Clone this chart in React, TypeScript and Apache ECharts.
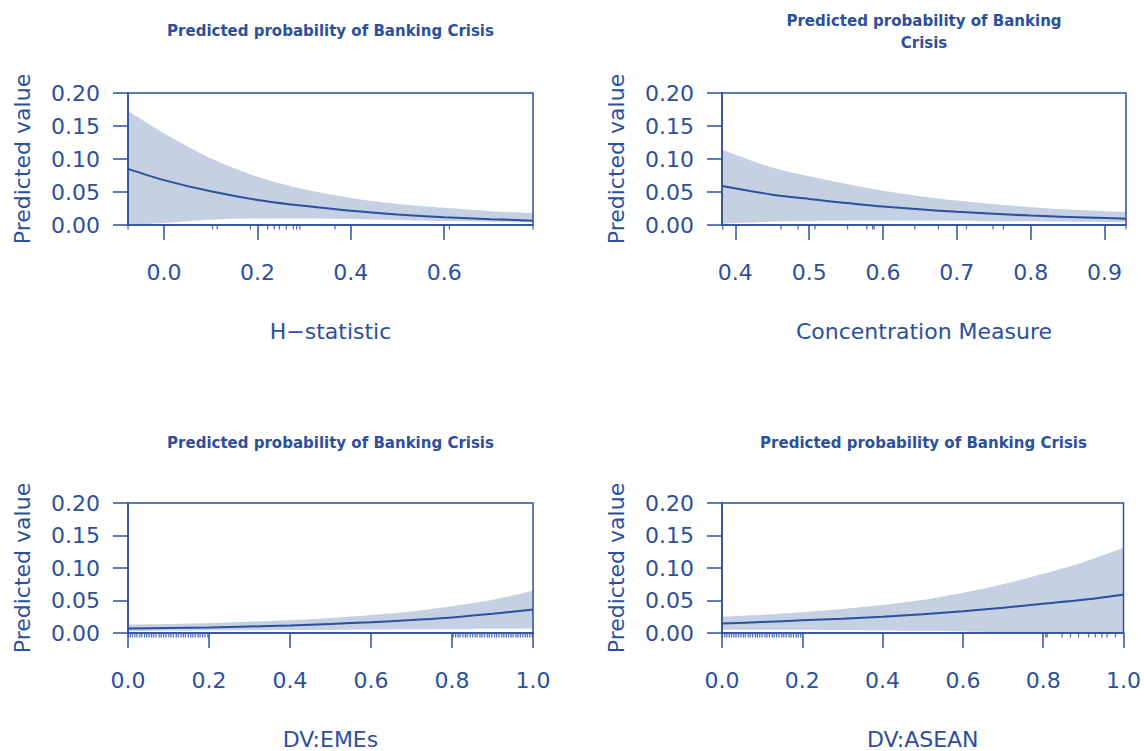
import React, { useEffect, useRef } from "react";
import * as echarts from "echarts";

const COLOR = "#2c4f9e";
const BAND = "#c5d0e3";
const FONT = "DejaVu Sans";

const TITLE = "Predicted probability of Banking Crisis";
const TITLE_WRAPPED = "Predicted probability of Banking\nCrisis";
const Y_NAME = "Predicted value";
const X_NAMES = ["H\u2212statistic", "Concentration Measure", "DV:EMEs", "DV:ASEAN"];

// Panel 1: H-statistic
const hX = [-0.077, 0.0, 0.1, 0.2, 0.3, 0.4, 0.5, 0.6, 0.7, 0.79];
const hFit = [0.085, 0.068, 0.051, 0.038, 0.029, 0.0215, 0.016, 0.0118, 0.0088, 0.0066];
const hUpper = [0.173, 0.139, 0.101, 0.073, 0.054, 0.041, 0.032, 0.026, 0.021, 0.018];
const hLower = [0.0, 0.003, 0.008, 0.0098, 0.0098, 0.009, 0.0075, 0.006, 0.005, 0.004];
const hRug = [-0.077, 0.104, 0.114, 0.185, 0.222, 0.236, 0.247, 0.262, 0.277, 0.284, 0.291, 0.366, 0.611, 0.79];
const hTicks = [0.0, 0.2, 0.4, 0.6];

// Panel 2: Concentration Measure
const cX = [0.382, 0.45, 0.5, 0.6, 0.7, 0.8, 0.9, 0.929];
const cFit = [0.059, 0.046, 0.0395, 0.028, 0.02, 0.0143, 0.0105, 0.0095];
const cUpper = [0.114, 0.087, 0.074, 0.052, 0.037, 0.027, 0.021, 0.02];
const cLower = [0.002, 0.005, 0.006, 0.0068, 0.0065, 0.0055, 0.0045, 0.004];
const cRug = [0.383, 0.462, 0.485, 0.508, 0.552, 0.578, 0.586, 0.588, 0.643, 0.675, 0.713, 0.749, 0.763, 0.929];
const cTicks = [0.4, 0.5, 0.6, 0.7, 0.8, 0.9];

// Panel 3: DV:EMEs
const eX = [0, 0.1, 0.2, 0.3, 0.4, 0.5, 0.6, 0.7, 0.8, 0.9, 1.0];
const eFit = [0.0068, 0.0076, 0.0086, 0.01, 0.0116, 0.014, 0.0166, 0.02, 0.024, 0.0295, 0.036];
const eUpper = [0.013, 0.014, 0.0155, 0.0175, 0.0196, 0.023, 0.0276, 0.033, 0.041, 0.051, 0.065];
const eLower = [0.003, 0.0035, 0.004, 0.0042, 0.0045, 0.0048, 0.0052, 0.0056, 0.006, 0.0065, 0.007];
const eRug = [
  0.001, 0.006, 0.011, 0.017, 0.022, 0.029, 0.034, 0.041, 0.046, 0.052, 0.058, 0.063, 0.069, 0.077,
  0.082, 0.088, 0.094, 0.101, 0.106, 0.112, 0.119, 0.124, 0.131, 0.137, 0.142, 0.149, 0.155, 0.16,
  0.166, 0.173, 0.178, 0.184, 0.19, 0.197,
  0.803, 0.809, 0.815, 0.82, 0.827, 0.833, 0.838, 0.845, 0.851, 0.857, 0.862, 0.869, 0.874, 0.88,
  0.887, 0.892, 0.898, 0.905, 0.91, 0.916, 0.923, 0.928, 0.934, 0.94, 0.946, 0.951, 0.958, 0.963,
  0.969, 0.975, 0.981, 0.986, 0.992, 0.998,
];
const eTicks = [0.0, 0.2, 0.4, 0.6, 0.8, 1.0];

// Panel 4: DV:ASEAN
const aX = [0, 0.1, 0.2, 0.3, 0.4, 0.5, 0.6, 0.7, 0.8, 0.9, 1.0];
const aFit = [0.0145, 0.017, 0.0195, 0.022, 0.025, 0.029, 0.0335, 0.039, 0.045, 0.051, 0.059];
const aUpper = [0.025, 0.028, 0.032, 0.037, 0.043, 0.051, 0.062, 0.075, 0.091, 0.109, 0.131];
const aLower = [0.005, 0.005, 0.005, 0.0045, 0.004, 0.0033, 0.0025, 0.0015, 0.0006, 0.0001, 0.0];
const aRug = [
  0.001, 0.007, 0.012, 0.018, 0.024, 0.03, 0.035, 0.041, 0.047, 0.053, 0.058, 0.065, 0.07, 0.076,
  0.083, 0.088, 0.094, 0.1, 0.107, 0.112, 0.118, 0.125, 0.13, 0.136, 0.142, 0.149, 0.154, 0.16,
  0.167, 0.172, 0.178, 0.185, 0.19, 0.196,
  0.806, 0.81, 0.847, 0.868, 0.888, 0.913, 0.93, 0.946, 0.959, 0.98,
];
const aTicks = [0.0, 0.2, 0.4, 0.6, 0.8, 1.0];

const panels = [
  { x: hX, fit: hFit, upper: hUpper, lower: hLower, rug: hRug, ticks: hTicks, min: -0.077, max: 0.79, grid: { left: 128, top: 93, width: 405, height: 132 }, title: TITLE, titleY: 31 },
  { x: cX, fit: cFit, upper: cUpper, lower: cLower, rug: cRug, ticks: cTicks, min: 0.382, max: 0.929, grid: { left: 722, top: 93, width: 404, height: 132 }, title: TITLE_WRAPPED, titleY: 32 },
  { x: eX, fit: eFit, upper: eUpper, lower: eLower, rug: eRug, ticks: eTicks, min: 0, max: 1, grid: { left: 128, top: 503, width: 405, height: 132 }, title: TITLE, titleY: 443 },
  { x: aX, fit: aFit, upper: aUpper, lower: aLower, rug: aRug, ticks: aTicks, min: 0, max: 1, grid: { left: 722, top: 503, width: 403, height: 132 }, title: TITLE, titleY: 443 },
];

export default function App() {
  const ref = useRef<HTMLDivElement>(null);
  useEffect(() => {
    if (!ref.current) return;
    const chart = echarts.init(ref.current, null, { renderer: "svg" });
    const grids: any[] = [];
    const xAxes: any[] = [];
    const yAxes: any[] = [];
    const series: any[] = [];
    const graphics: any[] = [];
    panels.forEach((p, i) => {
      grids.push({ ...p.grid, show: true, borderColor: COLOR, borderWidth: 1.5, backgroundColor: "transparent", containLabel: false, z: 10 });
      xAxes.push({
        type: "value", gridIndex: i, min: p.min, max: p.max, z: 10,
        name: X_NAMES[i], nameLocation: "middle", nameGap: 95,
        nameTextStyle: { color: COLOR, fontSize: 22, fontFamily: FONT },
        axisLine: { show: true, onZero: false, lineStyle: { color: COLOR, width: 1.5 } },
        axisTick: { show: true, length: 15, customValues: p.ticks, lineStyle: { color: COLOR, width: 1.5 } },
        axisLabel: { customValues: p.ticks, margin: 36, color: COLOR, fontSize: 22, fontFamily: FONT, formatter: (v: number) => v.toFixed(1) },
        splitLine: { show: false },
      });
      yAxes.push({
        type: "value", gridIndex: i, min: 0, max: 0.2, interval: 0.05, z: 10,
        name: Y_NAME, nameLocation: "middle", nameGap: 95,
        nameTextStyle: { color: COLOR, fontSize: 22, fontFamily: FONT },
        axisLine: { show: true, onZero: false, lineStyle: { color: COLOR, width: 1.5 } },
        axisTick: { show: true, length: 15, lineStyle: { color: COLOR, width: 1.5 } },
        axisLabel: { margin: 28, color: COLOR, fontSize: 22, fontFamily: FONT, formatter: (v: number) => v.toFixed(2) },
        splitLine: { show: false },
      });
      // upper confidence bound, filled down to the axis
      series.push({
        type: "line", xAxisIndex: i, yAxisIndex: i, symbol: "none", smooth: 0.3, z: 1,
        lineStyle: { opacity: 0 }, areaStyle: { color: BAND, opacity: 1, origin: "start" },
        data: p.x.map((x, k) => [x, p.upper[k]]), silent: true,
      });
      // lower confidence bound, clears the area below it
      series.push({
        type: "line", xAxisIndex: i, yAxisIndex: i, symbol: "none", smooth: 0.3, z: 2,
        lineStyle: { opacity: 0 }, areaStyle: { color: "#ffffff", opacity: 1, origin: "start" },
        data: p.x.map((x, k) => [x, p.lower[k]]), silent: true,
      });
      // fitted probability
      series.push({
        type: "line", xAxisIndex: i, yAxisIndex: i, symbol: "none", smooth: 0.3, z: 3,
        lineStyle: { color: COLOR, width: 2 }, data: p.x.map((x, k) => [x, p.fit[k]]), silent: true,
      });
      // rug of observations
      series.push({
        type: "scatter", xAxisIndex: i, yAxisIndex: i, symbol: "rect", symbolSize: [1.3, 4], symbolOffset: [0, 2.5], z: 4,
        itemStyle: { color: COLOR }, clip: false, silent: true, data: p.rug.map((x) => [x, 0]),
      });
      graphics.push({
        type: "text", x: p.grid.left + p.grid.width / 2, y: p.titleY,
        style: {
          text: p.title, fill: COLOR, font: `bold 15px "${FONT}"`,
          textAlign: "center", textVerticalAlign: "middle", align: "center", verticalAlign: "middle", lineHeight: 22,
        },
      });
    });
    chart.setOption({
      animation: false,
      backgroundColor: "#ffffff",
      grid: grids,
      xAxis: xAxes,
      yAxis: yAxes,
      series,
      graphic: graphics,
    });
    return () => chart.dispose();
  }, []);
  return <div ref={ref} style={{ position: "fixed", left: 0, top: 0, width: 1144, height: 751 }} />;
}
